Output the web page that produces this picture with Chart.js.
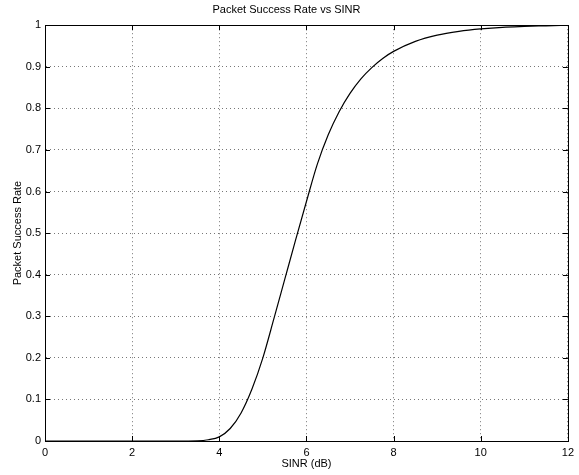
<!DOCTYPE html>
<html>
<head>
<meta charset="utf-8">
<title>Packet Success Rate vs SINR</title>
<script src="https://cdn.jsdelivr.net/npm/chart.js@4/dist/chart.umd.min.js"></script>
<style>
    html, body { margin: 0; padding: 0; background: #fff; }
    #wrap { width: 579px; height: 475px; }
</style>
</head>
<body>
<div id="wrap"><canvas id="psr"></canvas></div>
<script>
// SINR values (dB) and the packet success rate
var sinrDb = [0, 1, 2, 3, 3.5, 3.75, 4, 4.25, 4.5, 4.75, 5, 5.25, 5.5, 5.75, 6,
    6.25, 6.5, 6.75, 7, 7.25, 7.5, 7.75, 8, 8.5, 9, 9.5, 10, 10.5, 11, 11.5, 12];
var successRate = [0, 0, 0, 0, 0.0005, 0.003, 0.01, 0.03, 0.0675, 0.125, 0.2, 0.293,
    0.388, 0.483, 0.576, 0.666, 0.7365, 0.792, 0.836, 0.871, 0.898, 0.92, 0.937,
    0.961, 0.976, 0.985, 0.991, 0.995, 0.997, 0.9985, 1.0];

var xTicks = [0, 2, 4, 6, 8, 10, 12];
var yTicks = [0, 0.1, 0.2, 0.3, 0.4, 0.5, 0.6, 0.7, 0.8, 0.9, 1];

var FONT = 'Helvetica, Arial, "Liberation Sans", sans-serif';

// MATLAB-style frame: solid box and inward tick marks on all four sides
var boxPlugin = {
    id: 'matlabBox',
    afterDraw: function(chart) {
        var ctx = chart.ctx;
        var a = chart.chartArea;
        var xs = chart.scales.x;
        var ys = chart.scales.y;
        var len = 5;
        ctx.save();
        ctx.strokeStyle = '#000';
        ctx.lineWidth = 1;
        ctx.setLineDash([]);
        ctx.beginPath();
        xTicks.forEach(function(v) {
            var px = Math.round(xs.getPixelForValue(v)) + 0.5;
            ctx.moveTo(px, a.bottom); ctx.lineTo(px, a.bottom - len);
            ctx.moveTo(px, a.top); ctx.lineTo(px, a.top + len);
        });
        yTicks.forEach(function(v) {
            var py = Math.round(ys.getPixelForValue(v)) + 0.5;
            ctx.moveTo(a.left, py); ctx.lineTo(a.left + len, py);
            ctx.moveTo(a.right, py); ctx.lineTo(a.right - len, py);
        });
        ctx.stroke();
        ctx.strokeRect(Math.round(a.left) + 0.5, Math.round(a.top) + 0.5,
            Math.round(a.right - a.left), Math.round(a.bottom - a.top));
        ctx.restore();
    }
};

new Chart(document.getElementById('psr'), {
    type: 'line',
    data: {
        datasets: [{
            data: sinrDb.map(function(x, i) { return { x: x, y: successRate[i] }; }),
            borderColor: '#000',
            borderWidth: 1.2,
            pointRadius: 0,
            fill: false,
            cubicInterpolationMode: 'monotone'
        }]
    },
    options: {
        responsive: true,
        maintainAspectRatio: false,
        animation: false,
        layout: { padding: { left: 0, right: 6, top: 0, bottom: 0 } },
        plugins: {
            legend: { display: false },
            tooltip: { enabled: false },
            title: {
                display: true,
                text: 'Packet Success Rate vs SINR',
                color: '#000',
                font: { family: FONT, size: 11, weight: 'normal' },
                padding: { top: 3, bottom: 9 }
            }
        },
        scales: {
            x: {
                type: 'linear',
                min: 0,
                max: 12,
                afterBuildTicks: function(scale) {
                    scale.ticks = xTicks.map(function(v) { return { value: v }; });
                },
                afterFit: function(scale) { scale.height = 34; },
                ticks: {
                    color: '#000',
                    font: { family: FONT, size: 11 },
                    padding: 5,
                    maxRotation: 0
                },
                grid: {
                    color: '#777',
                    lineWidth: 1,
                    drawTicks: false
                },
                border: { display: true, color: '#000', dash: [1, 3] },
                title: {
                    display: true,
                    text: 'SINR (dB)',
                    color: '#000',
                    font: { family: FONT, size: 11 },
                    padding: { top: 0, bottom: 4 }
                }
            },
            y: {
                type: 'linear',
                min: 0,
                max: 1,
                afterBuildTicks: function(scale) {
                    scale.ticks = yTicks.map(function(v) { return { value: v }; });
                },
                afterFit: function(scale) { scale.width = 45; },
                ticks: {
                    color: '#000',
                    font: { family: FONT, size: 11 },
                    padding: 4,
                    callback: function(v) { return String(Math.round(v * 10) / 10); }
                },
                grid: {
                    color: '#777',
                    lineWidth: 1,
                    drawTicks: false
                },
                border: { display: true, color: '#000', dash: [1, 3] },
                title: {
                    display: true,
                    text: 'Packet Success Rate',
                    color: '#000',
                    font: { family: FONT, size: 11 },
                    padding: { top: 11, bottom: 0 }
                }
            }
        }
    },
    plugins: [boxPlugin]
});
</script>
</body>
</html>
